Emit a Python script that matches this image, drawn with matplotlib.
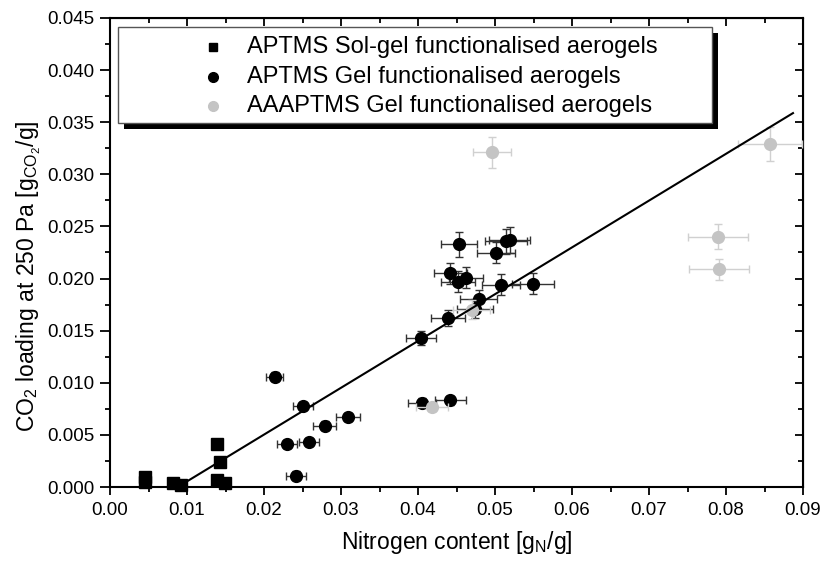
import matplotlib
matplotlib.use('Agg')
import matplotlib.pyplot as plt
from matplotlib.patches import Rectangle
from matplotlib.ticker import MultipleLocator, FormatStrFormatter

plt.rcParams['font.family'] = ['Liberation Sans', 'DejaVu Sans']
plt.rcParams['mathtext.fontset'] = 'custom'
plt.rcParams['mathtext.rm'] = 'Liberation Sans'

# APTMS sol-gel (squares)
sol_x = [0.0045, 0.0045, 0.0082, 0.0092, 0.0139, 0.0143, 0.0139, 0.0149]
sol_y = [0.0010, 0.0005, 0.0004, 0.0002, 0.0041, 0.0024, 0.0007, 0.0004]
sol_xerr = [0.0004, 0.0004, 0.0005, 0.0005, 0.0006, 0.0006, 0.0006, 0.0007]
sol_yerr = [0.0002, 0.0002, 0.0002, 0.0002, 0.0002, 0.0002, 0.0002, 0.0002]

# APTMS gel (circles)
gel_x = [0.0214, 0.0251, 0.0309, 0.0279, 0.0230, 0.0258, 0.0242,
         0.0453, 0.0514, 0.0519, 0.0501, 0.0442, 0.0462, 0.0452, 0.0508,
         0.0549, 0.0479, 0.0474, 0.0439, 0.0404, 0.0405, 0.0442]
gel_y = [0.0106, 0.0078, 0.0067, 0.0059, 0.0041, 0.0043, 0.0011,
         0.0233, 0.0236, 0.0237, 0.0225, 0.0205, 0.0201, 0.0197, 0.0194,
         0.0195, 0.0180, 0.0171, 0.0162, 0.0143, 0.0081, 0.0083]
gel_xerr = [0.0011, 0.0013, 0.0016, 0.0015, 0.0013, 0.0013, 0.0013,
            0.0023, 0.0027, 0.0027, 0.0025, 0.0021, 0.0022, 0.0022, 0.0025,
            0.0027, 0.0024, 0.0024, 0.0022, 0.0020, 0.0018, 0.0020]
gel_yerr = [0.0004, 0.0004, 0.0004, 0.0004, 0.0004, 0.0004, 0.0004,
            0.0012, 0.0012, 0.0012, 0.0010, 0.0010, 0.0010, 0.0010, 0.0010,
            0.0010, 0.0009, 0.0009, 0.0008, 0.0007, 0.0004, 0.0004]

# AAAPTMS gel (grey circles)
aa_x = [0.0470, 0.0418, 0.0496, 0.0857, 0.0790, 0.0791]
aa_y = [0.0170, 0.0077, 0.0321, 0.0329, 0.0240, 0.0209]
aa_xerr = [0.0024, 0.0021, 0.0025, 0.0042, 0.0039, 0.0039]
aa_yerr = [0.0009, 0.0004, 0.0015, 0.0016, 0.0012, 0.0010]

# linear fit
fit_x = [0.0088, 0.0887]
fit_slope = 0.449

labels = ['APTMS Sol-gel functionalised aerogels',
          'APTMS Gel functionalised aerogels',
          'AAAPTMS Gel functionalised aerogels']

fig = plt.figure(figsize=(8.22, 5.63), dpi=100)
ax = fig.add_axes([110 / 822, 1 - 487 / 563, 693 / 822, 469 / 563])

ax.errorbar(sol_x, sol_y, xerr=sol_xerr, yerr=sol_yerr, fmt='s', color='black',
            ms=8, ecolor='#444444', elinewidth=1, capsize=3, zorder=3, clip_on=False)
ax.errorbar(gel_x, gel_y, xerr=gel_xerr, yerr=gel_yerr, fmt='o', color='black',
            ms=8.5, ecolor='#333333', elinewidth=1, capsize=3, zorder=3)
ax.errorbar(aa_x, aa_y, xerr=aa_xerr, yerr=aa_yerr, fmt='o', color='#c4c4c4',
            ms=8.5, ecolor='#d0d0d0', elinewidth=1, capsize=3, zorder=4)
ax.plot(fit_x, [fit_slope * (v - fit_x[0]) for v in fit_x], color='black', lw=1.5, zorder=5)

ax.set_xlim(0, 0.09)
ax.set_ylim(0, 0.045)
ax.xaxis.set_major_locator(MultipleLocator(0.01))
ax.xaxis.set_minor_locator(MultipleLocator(0.005))
ax.yaxis.set_major_locator(MultipleLocator(0.005))
ax.yaxis.set_minor_locator(MultipleLocator(0.0025))
ax.xaxis.set_major_formatter(FormatStrFormatter('%.2f'))
ax.yaxis.set_major_formatter(FormatStrFormatter('%.3f'))
ax.tick_params(which='both', direction='out', width=1.3, labelsize=13.5)
ax.tick_params(axis='x', which='major', length=6, pad=5)
ax.tick_params(axis='x', which='minor', length=3.5)
ax.tick_params(axis='y', which='major', length=7, pad=4)
ax.tick_params(axis='y', which='minor', length=3.5)
for s in ax.spines.values():
    s.set_linewidth(1.5)

# mirrored inward ticks on top and right
top = ax.secondary_xaxis('top')
top.xaxis.set_major_locator(MultipleLocator(0.01))
top.xaxis.set_minor_locator(MultipleLocator(0.005))
top.tick_params(which='both', direction='in', width=1.3, labeltop=False)
top.tick_params(which='major', length=6)
top.tick_params(which='minor', length=3.5)
right = ax.secondary_yaxis('right')
right.yaxis.set_major_locator(MultipleLocator(0.005))
right.yaxis.set_minor_locator(MultipleLocator(0.0025))
right.tick_params(which='both', direction='in', width=1.3, labelright=False)
right.tick_params(which='major', length=6)
right.tick_params(which='minor', length=3.5)

ax.set_xlabel(r'Nitrogen content [g$_\mathregular{N}$/g]', fontsize=16.5, labelpad=7)
ax.set_ylabel(r'CO$_\mathregular{2}$ loading at 250 Pa [g$_\mathregular{CO_2}$/g]', fontsize=16.5)
ax.yaxis.set_label_coords(-0.097, 0.45)

# legend box with offset black shadow
bx0, bx1, by0, by1 = 0.0115, 0.8687, 0.7761, 0.9808
ax.add_patch(Rectangle((bx0 + 0.0087, by0 - 0.0128), bx1 - bx0, by1 - by0, transform=ax.transAxes,
                       facecolor='black', edgecolor='none', zorder=9))
ax.add_patch(Rectangle((bx0, by0), bx1 - bx0, by1 - by0, transform=ax.transAxes,
                       facecolor='white', edgecolor='#555555', lw=1.0, zorder=10))
row_y = [0.9382, 0.8742, 0.8124]
markers = [('s', 'black', 6), ('o', 'black', 7), ('o', '#c4c4c4', 7)]
for yy, (m, c, s), lab in zip(row_y, markers, labels):
    ax.plot([0.1486], [yy], marker=m, color=c, ms=s, ls='none', transform=ax.transAxes,
            zorder=11, clip_on=False)
    ax.text(0.1977, yy, lab, transform=ax.transAxes, fontsize=17, va='center', ha='left', zorder=11)

fig.savefig('out.png', dpi=100)
